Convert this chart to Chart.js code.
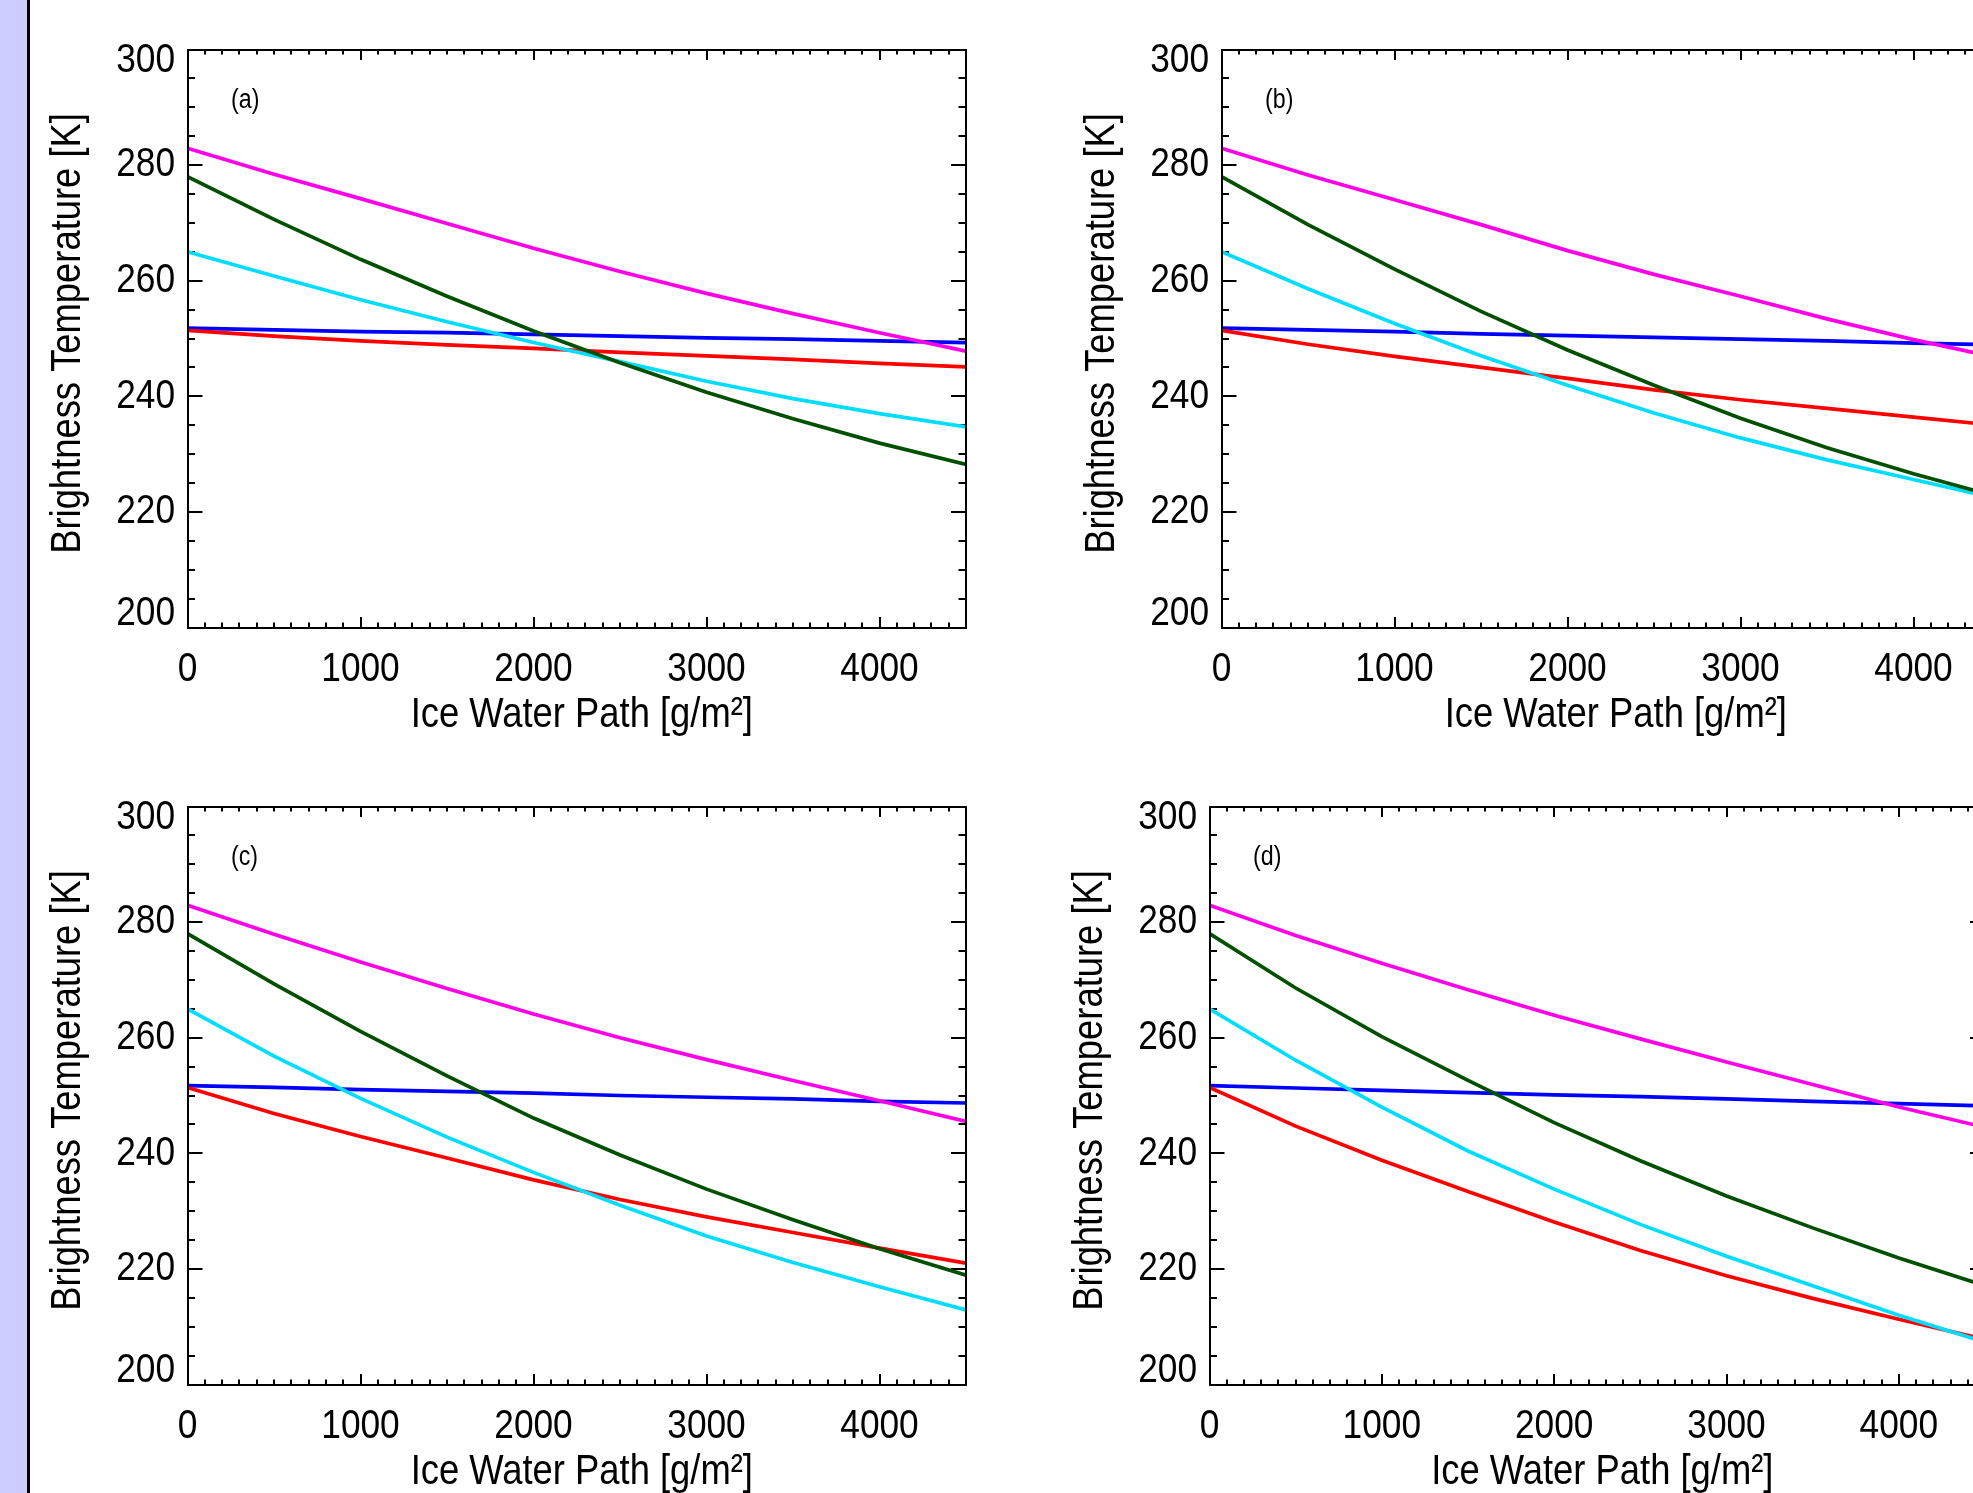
<!DOCTYPE html>
<html>
<head>
<meta charset="utf-8">
<title>Brightness Temperature vs Ice Water Path</title>
<script src="https://cdn.jsdelivr.net/npm/chart.js@4.4.1/dist/chart.umd.min.js"></script>
<style>
  html, body { margin: 0; padding: 0; width: 1973px; height: 1493px; overflow: hidden; background: #fff; }
  #strip { position: absolute; left: 0; top: 0; width: 27px; height: 1493px; background: #ccccff; border-right: 3px solid #000; }
  canvas { position: absolute; }
</style>
</head>
<body>
<div id="strip"></div>
<canvas id="panelA" width="976" height="760" style="left:30px;top:0px;width:976px;height:760px"></canvas>
<canvas id="panelB" width="976" height="760" style="left:1064px;top:0px;width:976px;height:760px"></canvas>
<canvas id="panelC" width="976" height="760" style="left:30px;top:757px;width:976px;height:760px"></canvas>
<canvas id="panelD" width="976" height="760" style="left:1052px;top:757px;width:976px;height:760px"></canvas>
<script>
// Ice water path samples [g/m2]
const iwp = [0, 500, 1000, 1500, 2000, 2500, 3000, 3500, 4000, 4500];

// labelled ticks
const iwpTicks = [0, 1000, 2000, 3000, 4000];
const tbTicks = [200, 220, 240, 260, 280, 300];

// brightness temperatures [K]
// panel (a)
const aMagenta = [282.9, 278.4, 274.2, 269.9, 265.6, 261.6, 257.8, 254.3, 251.0, 247.8];
const aGreen   = [278.0, 270.6, 263.7, 257.3, 251.3, 245.8, 240.7, 236.1, 231.9, 228.2];
const aCyan    = [265.0, 260.8, 256.7, 252.9, 249.3, 246.0, 242.6, 239.6, 237.0, 234.7];
const aBlue    = [251.8, 251.5, 251.2, 251.0, 250.7, 250.4, 250.1, 249.9, 249.6, 249.3];
const aRed     = [251.4, 250.4, 249.6, 248.9, 248.3, 247.6, 247.0, 246.4, 245.7, 245.1];
// panel (b)
const bMagenta = [282.9, 278.3, 274.0, 269.7, 265.2, 261.1, 257.3, 253.4, 249.8, 246.6];
const bGreen   = [278.0, 269.7, 262.0, 254.7, 248.0, 241.9, 236.2, 231.1, 226.6, 222.5];
const bCyan    = [265.0, 258.6, 252.6, 247.0, 241.9, 237.1, 232.8, 229.0, 225.6, 222.2];
const bBlue    = [251.8, 251.5, 251.2, 250.8, 250.5, 250.2, 249.9, 249.6, 249.2, 248.9];
const bRed     = [251.4, 249.0, 246.9, 245.0, 243.1, 241.1, 239.4, 237.9, 236.4, 234.9];
// panel (c)
const cMagenta = [282.9, 277.9, 273.1, 268.5, 264.1, 260.0, 256.2, 252.6, 249.1, 245.5];
const cGreen   = [278.0, 269.3, 261.1, 253.4, 246.1, 239.7, 233.8, 228.5, 223.5, 218.9];
const cCyan    = [265.0, 256.8, 249.5, 242.8, 236.7, 231.0, 225.7, 221.1, 216.9, 212.9];
const cBlue    = [251.7, 251.4, 251.0, 250.7, 250.4, 250.0, 249.7, 249.4, 249.0, 248.7];
const cRed     = [251.4, 246.9, 242.9, 239.2, 235.4, 232.0, 229.0, 226.3, 223.6, 221.0];
// panel (d)
const dMagenta = [282.9, 277.7, 272.9, 268.3, 263.9, 259.8, 255.8, 251.9, 248.0, 244.5];
const dGreen   = [278.0, 268.6, 260.2, 252.6, 245.3, 238.7, 232.6, 227.1, 221.9, 217.1];
const dCyan    = [265.0, 256.1, 248.0, 240.4, 233.8, 227.7, 222.2, 217.1, 212.0, 207.3];
const dBlue    = [251.7, 251.3, 250.9, 250.5, 250.1, 249.8, 249.4, 249.0, 248.6, 248.2];
const dRed     = [251.4, 244.7, 238.8, 233.4, 228.1, 223.2, 218.8, 214.9, 211.3, 207.8];

// leading space: the original titles sit a few px off the axis centre
const xTitle = ' Ice Water Path [g/m²]';
const yTitle = ' Brightness Temperature [K]';

const fontFamily = "'Liberation Sans', Arial, sans-serif";
const textSqueeze = 0.86; // original uses a narrow Helvetica
const lineColors = { magenta: '#ff00e8', green: '#005000', cyan: '#00ddff', blue: '#0000ff', red: '#ff0000' };

// squeeze every text drawn on the chart horizontally (no narrow font installed)
const narrowText = {
    id: 'narrowText',
    beforeInit(chart) {
        const ctx = chart.ctx;
        if (ctx.__narrow) return;
        const fill = ctx.fillText.bind(ctx);
        ctx.fillText = function (text, x, y) {
            ctx.save();
            ctx.translate(x, y);
            ctx.scale(textSqueeze, 1);
            fill(text, 0, 0);
            ctx.restore();
        };
        ctx.__narrow = true;
    }
};

// small text tag "(a)" etc in the upper left of the plot
const panelTag = {
    id: 'panelTag',
    afterDraw(chart, args, opts) {
        const { ctx, chartArea } = chart;
        ctx.save();
        ctx.font = '27px ' + fontFamily;
        ctx.fillStyle = '#000';
        ctx.textAlign = 'left';
        ctx.textBaseline = 'middle';
        ctx.fillText(opts.text, chartArea.left + 43.5, chartArea.top + 51);
        ctx.restore();
    }
};

function pts(arr) {
    return iwp.map((x, i) => ({ x: x, y: arr[i] }));
}

function line(arr, color) {
    return {
        data: pts(arr),
        borderColor: color,
        borderWidth: 3.7,
        pointRadius: 0,
        tension: 0,
        fill: false,
        clip: 0
    };
}

// one axis edge: major or minor ticks, pointing into the plot
function edge(position, isX, major, extra) {
    const base = {
        type: 'linear',
        position: position,
        min: isX ? 0 : 200,
        max: isX ? 4500 : 300,
        weight: 0,
        afterFit: s => { if (isX) s.height = 0; else s.width = 0; },
        border: { display: major, color: '#000', width: 2, z: 1 },
        grid: {
            drawOnChartArea: false,
            drawTicks: true,
            lineWidth: 2,
            tickWidth: 2,
            tickColor: '#000',
            tickLength: isX ? (major ? -10.5 : -5) : (major ? -15 : -7.5)
        },
        ticks: {
            display: false,
            stepSize: isX ? 100 : 5
        },
        title: { display: false }
    };
    if (major) {
        const vals = isX ? iwpTicks : tbTicks;
        base.afterBuildTicks = s => { s.ticks = vals.map(v => ({ value: v })); };
    }
    return Object.assign(base, extra || {});
}

function makeChart(canvasId, tag, rightPad, m, g, c, b, r) {
    const tickFont = { family: fontFamily, size: 41, lineHeight: 1 };
    const titleFont = { family: fontFamily, size: 42.3, lineHeight: 1 };

    const xMain = edge('bottom', true, true, {
        weight: 1,
        afterFit: s => { s.height = 132.5; },
        ticks: {
            display: true, autoSkip: false, maxRotation: 0, minRotation: 0,
            padding: 32.5, color: '#000', font: tickFont,
            callback: v => String(v)
        },
        title: { display: true, text: xTitle, color: '#000', font: titleFont, padding: { top: 0, bottom: 23.8 } }
    });

    const yMain = edge('left', false, true, {
        weight: 1,
        afterFit: s => { s.width = 157.5; },
        ticks: {
            display: true, autoSkip: false, padding: 27.5, color: '#000',
            // end labels sit a little inside the box, as in the original
            font: ctx => {
                const v = ctx.tick ? ctx.tick.value : null;
                if (v === 300) return { family: fontFamily, size: 41, lineHeight: '22px' };
                if (v === 200) return { family: fontFamily, size: 41, lineHeight: '28px' };
                return tickFont;
            },
            callback: v => (v === 300 ? ['', '300'] : v === 200 ? ['200', ''] : String(v))
        },
        title: { display: true, text: yTitle, color: '#000', font: titleFont, padding: { top: 16.8, bottom: 0 } }
    });

    return new Chart(document.getElementById(canvasId), {
        type: 'line',
        data: {
            datasets: [
                line(m, lineColors.magenta),
                line(g, lineColors.green),
                line(c, lineColors.cyan),
                line(r, lineColors.red),
                line(b, lineColors.blue)
            ]
        },
        options: {
            responsive: false,
            animation: false,
            devicePixelRatio: 1,
            events: [],
            layout: { padding: { left: 0, top: 48.5, right: rightPad, bottom: 0 } },
            scales: {
                x: xMain,
                xMinor: edge('bottom', true, false),
                xTop: edge('top', true, true),
                xTopMinor: edge('top', true, false),
                y: yMain,
                yMinor: edge('left', false, false),
                yRight: edge('right', false, true),
                yRightMinor: edge('right', false, false)
            },
            plugins: {
                legend: { display: false },
                tooltip: { enabled: false },
                panelTag: { text: tag }
            }
        },
        plugins: [narrowText, panelTag]
    });
}

makeChart('panelA', '(a)', 40, aMagenta, aGreen, aCyan, aBlue, aRed);
makeChart('panelB', '(b)', 40, bMagenta, bGreen, bCyan, bBlue, bRed);
makeChart('panelC', '(c)', 40, cMagenta, cGreen, cCyan, cBlue, cRed);
makeChart('panelD', '(d)', 43, dMagenta, dGreen, dCyan, dBlue, dRed);
</script>
</body>
</html>
